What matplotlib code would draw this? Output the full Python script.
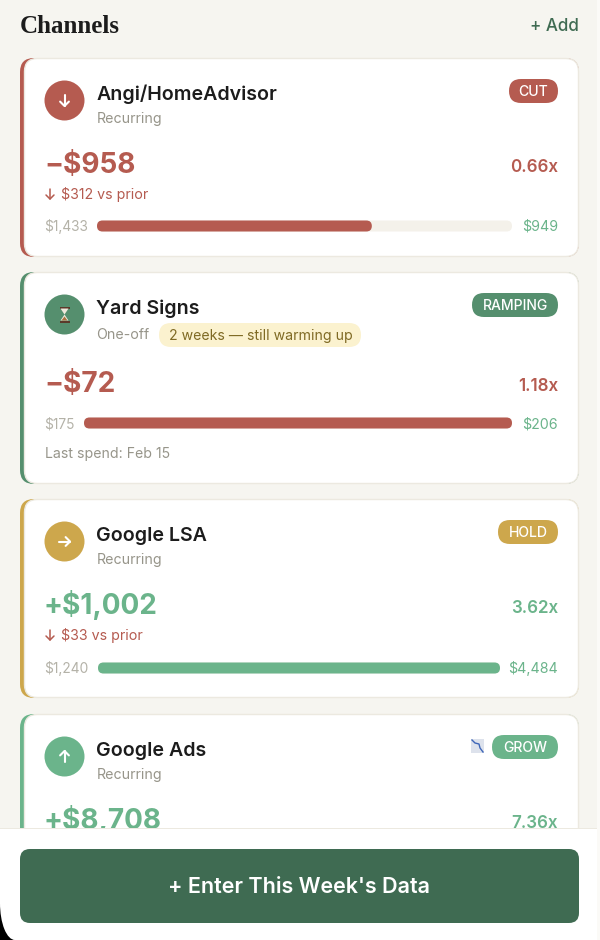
import matplotlib
matplotlib.use("Agg")
import matplotlib.pyplot as plt
from matplotlib.patches import FancyBboxPatch, Circle, Ellipse, Rectangle, Polygon

# ---- data ----
channels = ["Angi/HomeAdvisor", "Yard Signs", "Google LSA", "Google Ads"]
types = ["Recurring", "One-off", "Recurring", "Recurring"]
statuses = ["CUT", "RAMPING", "HOLD", "GROW"]
profits = ["−$958", "−$72", "+$1,002", "+$8,708"]
roas = ["0.66x", "1.18x", "3.62x", "7.36x"]
spend = [1433, 175, 1240]
revenue = [949, 206, 4484]
deltas = ["$312 vs prior", None, "$33 vs prior", None]

RED = "#B55B50"; DG = "#558F6E"; GOLD = "#CDA74C"; LG = "#6BB48B"; DARK = "#3F6B52"
BG = "#F6F5F0"; INK = "#1C1C1C"; MUTE = "#97958A"; LINE = "#ECE9E0"; TRACK = "#F4F1EA"
accent = [RED, DG, GOLD, LG]
profit_col = [RED, RED, LG, LG]
tops = [58, 272, 499, 714]
bots = [257, 484, 698, 900]
arrows = [(0, 1), None, (1, 0), (0, -1)]
FONT = "Inter"

fig = plt.figure(figsize=(6, 9.4), dpi=100, facecolor=BG)
ax = fig.add_axes([0, 0, 1, 1])
ax.set_xlim(0, 600); ax.set_ylim(940, 0); ax.axis("off")

def px(s):
    return s * 0.72

def T(x, y, s, size, c, w="normal", ha="left", fam=FONT, z=5, va="baseline"):
    return ax.text(x, y, s, fontsize=px(size), color=c, fontweight=w, ha=ha, va=va,
                   family=fam, zorder=z)

def R(x0, y0, x1, y1, r, fc, ec="none", lw=0, z=2):
    ax.add_patch(FancyBboxPatch((x0 + r, y0 + r), x1 - x0 - 2 * r, y1 - y0 - 2 * r,
                                boxstyle=f"round,pad={r},rounding_size={r}",
                                fc=fc, ec=ec, lw=lw, zorder=z, mutation_aspect=1))

def arrow(cx, cy, dx, dy, size, col, lw, z=5):
    hx, hy = cx + dx * size, cy + dy * size
    tx, ty = cx - dx * size, cy - dy * size
    head = size * 0.8
    nx, ny = -dy, dx
    ax.plot([tx, hx], [ty, hy], color=col, lw=lw, solid_capstyle="round", zorder=z)
    ax.plot([hx - dx * head + nx * head, hx, hx - dx * head - nx * head],
            [hy - dy * head + ny * head, hy, hy - dy * head - ny * head],
            color=col, lw=lw, solid_capstyle="round", solid_joinstyle="round", zorder=z)

# header
T(20, 33, "Channels", 25, INK, "bold", fam="Liberation Serif")
T(579, 31, "+ Add", 17, DARK, "medium", ha="right")

# cards
sub_dy = [65, 67, 65, 65]
val_dy = [115, 120, 115, 115]
badge_w = [49, 86, 60, 66]
for i, name in enumerate(channels):
    t, b, col = tops[i], bots[i], accent[i]
    R(20, t, 579, b, 14, col, z=1)
    R(24.5, t + 0.5, 578.5, b - 0.5, 13, "white", ec=LINE, lw=1, z=2)
    cy, cx = t + 42.5, 64.5
    ax.add_patch(Circle((cx, cy), 20, fc=col, ec="none", zorder=3))
    if arrows[i]:
        arrow(cx, cy, arrows[i][0], arrows[i][1], 5.5, "white", 1.5)
    else:
        ax.add_patch(Rectangle((cx - 5, cy - 8), 10, 2, fc="#5A3A2A", zorder=4))
        ax.add_patch(Rectangle((cx - 5, cy + 6), 10, 2, fc="#5A3A2A", zorder=4))
        ax.add_patch(Polygon([(cx - 4, cy - 6), (cx + 4, cy - 6), (cx, cy), (cx + 4, cy + 6), (cx - 4, cy + 6), (cx, cy)],
                             fc="#EFE8DC", zorder=4))
        ax.add_patch(Polygon([(cx - 3, cy + 6), (cx + 3, cy + 6), (cx, cy + 2)], fc="#A9713F", zorder=5))
    T(96.5, t + 42, name, 19.6, INK, "semibold")
    T(96.5, t + sub_dy[i], types[i], 14.2, MUTE)
    # badge
    bw = badge_w[i]
    R(558 - bw, t + 21, 558, t + 45, 12, col, z=3)
    T(558 - bw / 2, t + 38, statuses[i], 14, "white", "medium", ha="center")
    # profit and ROAS
    T(44, t + val_dy[i], profits[i], 28, profit_col[i], "bold", z=3)
    T(558, t + val_dy[i] - 1, roas[i], 17, profit_col[i], "semibold", ha="right", z=3)
    if deltas[i]:
        arrow(50, t + 136, 0, 1, 5, RED, 1.1)
        T(61, t + 141, deltas[i], 14.2, RED)

# spend / revenue bars
bar_y = [226, 423, 668]
bar_l = [97, 84, 98]
bar_r = [512, 512, 500]
for i in range(3):
    y = bar_y[i]
    T(44.5, y + 5, f"${spend[i]:,}", 13.8, "#B4B2A8")
    T(558, y + 5, f"${revenue[i]:,}", 14.2, LG, ha="right")
    l, r = bar_l[i], bar_r[i]
    R(l, y - 5.5, r, y + 5.5, 5.5, TRACK, z=3)
    frac = min(1, revenue[i] / spend[i])
    R(l, y - 5.5, l + frac * (r - l), y + 5.5, 5.5, RED if revenue[i] / spend[i] < 2 else LG, z=4)

# warm-up pill and last-spend note
R(159, 323, 361, 347, 12, "#FBF2CF", z=3)
T(169, 340, "2 weeks — still warming up", 14.1, "#7F6A24")
T(45, 458, "Last spend: Feb 15", 14.1, MUTE)

# small chart emoji
ax.add_patch(Rectangle((471, 739), 13, 14, fc="#DDE2EC", ec="none", zorder=3))
ax.plot([472, 475, 479, 480, 483], [740, 743, 744, 748, 752], color="#3E66B8", lw=1, zorder=4)

# bottom panel, with the device's rounded corner
ax.add_patch(Rectangle((0, 900), 30, 40, fc="#000000", ec="none", zorder=6))
ax.add_patch(Rectangle((0, 828), 597, 1.2, fc=LINE, ec="none", zorder=8))
ax.add_patch(Rectangle((0, 829), 597, 74, fc="white", ec="none", zorder=7))
ax.add_patch(Rectangle((15, 900), 582, 40, fc="white", ec="none", zorder=7))
ax.add_patch(Ellipse((15, 903), 30, 74, fc="white", ec="none", zorder=7))
ax.add_patch(Rectangle((597, 0), 3, 940, fc="#FBFAF7", ec="none", zorder=9))
R(20, 849, 579, 923, 10, DARK, z=8)
T(299.5, 893, "+ Enter This Week's Data", 21.5, "white", "semibold", ha="center", z=9)

fig.savefig("out.png", dpi=100, facecolor=BG)
